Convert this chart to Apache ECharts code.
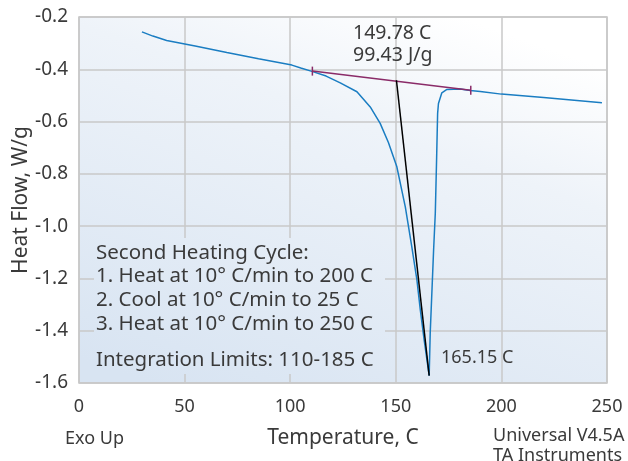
<!DOCTYPE html>
<html>
<head>
<meta charset="utf-8">
<script src="https://cdn.jsdelivr.net/npm/echarts@6/dist/echarts.min.js"></script>
<style>
html,body{margin:0;padding:0;background:#fff;}
#chart{width:628px;height:461px;}
</style>
</head>
<body>
<div id="chart"></div>
<script>
// Data
var heatFlowCurve = [
  [29.8,-0.257],[35,-0.273],[41.5,-0.290],[55,-0.311],[70,-0.336],[85,-0.360],
  [100.8,-0.384],[105,-0.395],[110.3,-0.408],[117,-0.426],[123.7,-0.452],
  [131.6,-0.486],[137.9,-0.544],[142.6,-0.607],[146.5,-0.680],[150.5,-0.773],
  [154.5,-0.926],[157.6,-1.080],[160,-1.206],[161.6,-1.320],[163.5,-1.440],
  [165.8,-1.572],[166.3,-1.409],[167.1,-1.250],[167.9,-1.091],[168.7,-0.951],
  [169.3,-0.750],[169.8,-0.569],[170.2,-0.531],[171.8,-0.490],[174.2,-0.477],
  [180.5,-0.475],[185.2,-0.481],[190,-0.485],[200,-0.495],[220,-0.508],[247.6,-0.528]
];
var baselinePts = [[110.5,-0.407],[185.5,-0.480]];
var onsetLine = [[150.3,-0.442],[165.8,-1.572]];
var xTicks = {min:0, max:250, step:50};
var yTicks = {min:-1.6, max:-0.2, step:0.2};
var onsetText = ['149.78 C','99.43 J/g'];
var peakText = '165.15 C';
var methodLines = ['Second Heating Cycle:','1. Heat at 10° C/min to 200 C','2. Cool at 10° C/min to 25 C','3. Heat at 10° C/min to 250 C'];
var limitsText = 'Integration Limits: 110-185 C';

var FONT = 'Noto Sans';
var TXT = '#3a3a3a';
var bgGrad = {type:'linear', x:300, y:-40, x2:150, y2:383, global:true,
  colorStops:[{offset:0,color:'#ffffff'},{offset:0.3,color:'#eef3f9'},{offset:1,color:'#d8e4f2'}]};

var chart = echarts.init(document.getElementById('chart'), null, {renderer:'canvas'});
chart.setOption({
  animation:false,
  backgroundColor:'#ffffff',
  grid:{left:79, right:21, top:17, bottom:78, show:true, backgroundColor:bgGrad,
        borderColor:'#c4c4c4', borderWidth:1.5, containLabel:false, outerBoundsMode:'none'},
  xAxis:{type:'value', min:xTicks.min, max:xTicks.max, interval:xTicks.step,
    name:'Temperature, C', nameLocation:'middle', nameGap:45, nameMoveOverlap:false,
    nameTextStyle:{fontFamily:FONT, fontSize:21, color:TXT},
    axisLine:{show:false}, axisTick:{show:false},
    axisLabel:{fontFamily:FONT, fontSize:18, color:TXT, margin:15},
    splitLine:{show:true, lineStyle:{color:'#c8c8c8', width:1.5}}},
  yAxis:{type:'value', min:yTicks.min, max:yTicks.max, interval:yTicks.step,
    name:'Heat Flow, W/g', nameLocation:'middle', nameGap:47, nameRotate:90, nameMoveOverlap:false,
    nameTextStyle:{fontFamily:FONT, fontSize:21, color:TXT},
    axisLine:{show:false}, axisTick:{show:false},
    axisLabel:{fontFamily:FONT, fontSize:19, color:TXT, margin:11,
      formatter:function(v){return v.toFixed(1);}},
    splitLine:{show:true, lineStyle:{color:'#c8c8c8', width:1.5}}},
  series:[
    {type:'line', data:heatFlowCurve, showSymbol:false, smooth:false,
     lineStyle:{color:'#1a7dc2', width:1.5}, z:3},
    {type:'line', data:baselinePts, showSymbol:true, symbol:'rect', symbolSize:[1.5,9],
     itemStyle:{color:'#8a2b68'}, lineStyle:{color:'#8a2b68', width:1.5}, z:4},
    {type:'line', data:onsetLine, showSymbol:false,
     lineStyle:{color:'#000000', width:1.5}, z:5}
  ],
  graphic:[
    {type:'rect', shape:{x:94, y:238, width:291, height:136}, style:{fill:bgGrad}, z:10},
    {type:'text', left:96, top:241, z:11, style:{text:methodLines.join('\n'), font:'20.5px "'+FONT+'"', fill:TXT, lineHeight:23.7}},
    {type:'text', left:96, top:348, z:11, style:{text:limitsText, font:'20.5px "'+FONT+'"', fill:TXT, lineHeight:23.7}},
    {type:'text', left:353, top:22, z:11, style:{text:onsetText.join('\n'), font:'19.5px "'+FONT+'"', fill:TXT, lineHeight:22.5}},
    {type:'text', left:441, top:347, z:11, style:{text:peakText, font:'18px "'+FONT+'"', fill:TXT, lineHeight:22}},
    {type:'text', left:65, top:429, z:11, style:{text:'Exo Up', font:'18px "'+FONT+'"', fill:TXT, lineHeight:20}},
    {type:'text', left:493, top:426, z:11, style:{text:'Universal V4.5A\nTA Instruments', font:'18px "'+FONT+'"', fill:TXT, lineHeight:20}}
  ]
});
</script>
</body>
</html>
